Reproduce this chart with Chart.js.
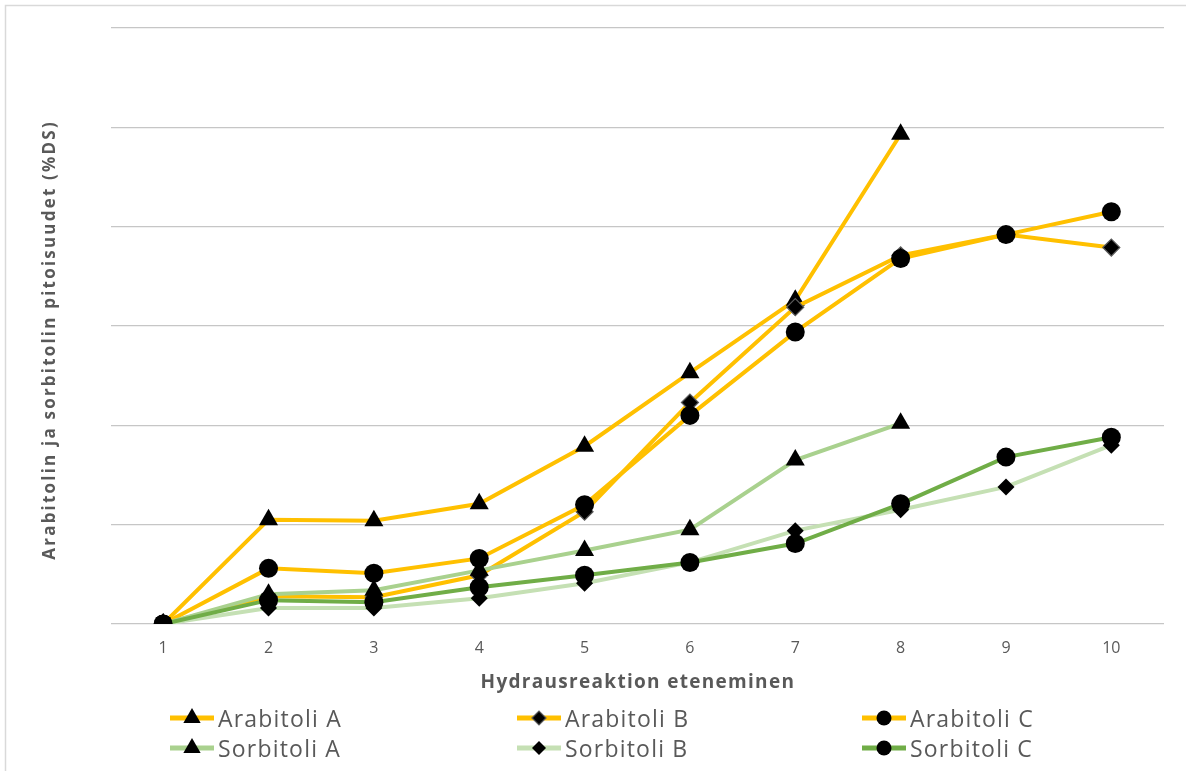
<!DOCTYPE html>
<html>
<head>
<meta charset="utf-8">
<script src="https://cdn.jsdelivr.net/npm/chart.js@4/dist/chart.umd.min.js"></script>
<style>
  html, body { margin: 0; padding: 0; background: #ffffff; }
  #wrap { width: 1186px; height: 771px; }
</style>
</head>
<body>
<div id="wrap"><canvas id="c" width="1186" height="771"></canvas></div>
<script>
// Reaction progress steps
const steps = ['1', '2', '3', '4', '5', '6', '7', '8', '9', '10'];

// Contents (%DS) per sample
const arabitoliA = [0, 1.05, 1.04, 1.21, 1.79, 2.53, 3.26, 4.93, null, null];
const arabitoliB = [0, 0.28, 0.27, 0.49, 1.13, 2.23, 3.19, 3.71, 3.92, 3.79];
const arabitoliC = [0, 0.56, 0.51, 0.66, 1.20, 2.10, 2.94, 3.68, 3.92, 4.15];
const sorbitoliA = [0, 0.30, 0.34, 0.54, 0.74, 0.95, 1.65, 2.02, null, null];
const sorbitoliB = [0, 0.16, 0.16, 0.26, 0.41, 0.62, 0.94, 1.15, 1.38, 1.80];
const sorbitoliC = [0, 0.24, 0.22, 0.37, 0.49, 0.62, 0.81, 1.21, 1.68, 1.88];

const seriesNames = ['Arabitoli A', 'Arabitoli B', 'Arabitoli C', 'Sorbitoli A', 'Sorbitoli B', 'Sorbitoli C'];
const seriesData = [arabitoliA, arabitoliB, arabitoliC, sorbitoliA, sorbitoliB, sorbitoliC];
const lineColors = ['#FFC000', '#FFC000', '#FFC000', '#A9D18E', '#C5E0B4', '#70AD47'];
const markerStyles = ['triangle', 'rectRot', 'circle', 'triangle', 'rectRot', 'circle'];
const markerSizes = { triangle: 11, rectRot: 8.5, circle: 9.5 };

const xTitle = 'Hydrausreaktion eteneminen';
const yTitle = 'Arabitolin ja sorbitolin pitoisuudet (%DS)';

const TEXT = '#595959';
const FONT = '"Open Sans", Lato, sans-serif';

const datasets = seriesNames.map((name, i) => ({
  label: name,
  data: seriesData[i],
  borderColor: lineColors[i],
  backgroundColor: lineColors[i],
  borderWidth: 4,
  tension: 0,
  spanGaps: false,
  pointStyle: markerStyles[i],
  pointRadius: markerSizes[markerStyles[i]],
  pointHoverRadius: markerSizes[markerStyles[i]],
  pointBackgroundColor: '#000000',
  pointBorderColor: i === 1 ? '#5a5a5a' : '#000000',
  pointBorderWidth: i === 1 ? 1.2 : 0,
  order: seriesNames.length - i
}));

// Text with extra tracking, drawn from a given left x on the baseline
function spacedText(ctx, text, x, y, spacing) {
  if ('letterSpacing' in ctx) {
    ctx.letterSpacing = spacing + 'px';
    ctx.fillText(text, x, y);
    ctx.letterSpacing = '0px';
    return;
  }
  let cx = x;
  for (const ch of text) {
    ctx.fillText(ch, cx, y);
    cx += ctx.measureText(ch).width + spacing;
  }
}
function spacedWidth(ctx, text, spacing) {
  return ctx.measureText(text).width + spacing * (text.length - 1);
}

// Outer frame of the chart
const framePlugin = {
  id: 'frame',
  beforeDraw(chart) {
    const ctx = chart.ctx;
    ctx.save();
    ctx.fillStyle = '#ffffff';
    ctx.fillRect(0, 0, chart.width, chart.height);
    ctx.strokeStyle = '#D9D9D9';
    ctx.lineWidth = 1.5;
    ctx.strokeRect(5.5, 5.5, chart.width + 20, chart.height + 20);
    ctx.restore();
  }
};

// Axis titles with tracked lettering
const titlesPlugin = {
  id: 'axisTitles',
  afterDraw(chart) {
    const ctx = chart.ctx;
    const area = chart.chartArea;
    ctx.save();
    ctx.fillStyle = TEXT;
    ctx.textAlign = 'left';
    ctx.textBaseline = 'alphabetic';

    ctx.font = 'bold 19px ' + FONT;
    const xs = 1.3;
    const xw = spacedWidth(ctx, xTitle, xs);
    spacedText(ctx, xTitle, (area.left + area.right) / 2 - xw / 2, 688, xs);

    ctx.font = 'bold 17px ' + FONT;
    const ys = 2.2;
    const yw = spacedWidth(ctx, yTitle, ys);
    ctx.translate(55, 341);
    ctx.rotate(-Math.PI / 2);
    spacedText(ctx, yTitle, -yw / 2, 0, ys);
    ctx.restore();
  }
};

// Legend: line sample with marker, two rows of three entries
const legendPlugin = {
  id: 'lineMarkerLegend',
  afterDraw(chart) {
    const ctx = chart.ctx;
    const colX = [170, 517, 862];
    const rowY = [718, 748];
    const lineLen = 44;
    ctx.save();
    chart.data.datasets.forEach((ds, i) => {
      const x0 = colX[i % 3];
      const y = rowY[Math.floor(i / 3)];
      ctx.strokeStyle = ds.borderColor;
      ctx.lineWidth = 5;
      ctx.lineCap = 'butt';
      ctx.beginPath();
      ctx.moveTo(x0, y);
      ctx.lineTo(x0 + lineLen, y);
      ctx.stroke();
      ctx.fillStyle = '#000000';
      ctx.strokeStyle = ds.pointBorderColor;
      ctx.lineWidth = ds.pointBorderWidth;
      const r = ds.pointStyle === 'triangle' ? 10 : (ds.pointStyle === 'circle' ? 7.5 : 7);
      Chart.helpers.drawPoint(ctx, { pointStyle: ds.pointStyle, radius: r, borderWidth: ds.pointBorderWidth, rotation: 0 }, x0 + lineLen / 2, y);
      ctx.fillStyle = TEXT;
      ctx.font = '23px ' + FONT;
      ctx.textBaseline = 'alphabetic';
      ctx.textAlign = 'left';
      spacedText(ctx, ds.label, x0 + lineLen + 4, y + 9, 1.2);
    });
    ctx.restore();
  }
};

new Chart(document.getElementById('c'), {
  type: 'line',
  data: { labels: steps, datasets },
  options: {
    responsive: false,
    animation: false,
    devicePixelRatio: 1,
    layout: { padding: { left: 5.5, right: 22, top: 28, bottom: 77 } },
    plugins: {
      legend: { display: false },
      tooltip: { enabled: false }
    },
    scales: {
      x: {
        offset: true,
        grid: { display: false, drawTicks: false },
        border: { display: false },
        ticks: { color: TEXT, font: { family: FONT, size: 16 }, padding: 15, maxRotation: 0 },
        afterFit(scale) { scale.height = 70; }
      },
      y: {
        min: 0,
        max: 6,
        ticks: { display: false, stepSize: 1 },
        grid: { color: '#C6C6C6', lineWidth: 1.3, drawTicks: false },
        border: { display: false },
        afterFit(scale) { scale.width = 105; }
      }
    }
  },
  plugins: [framePlugin, titlesPlugin, legendPlugin]
});
</script>
</body>
</html>
